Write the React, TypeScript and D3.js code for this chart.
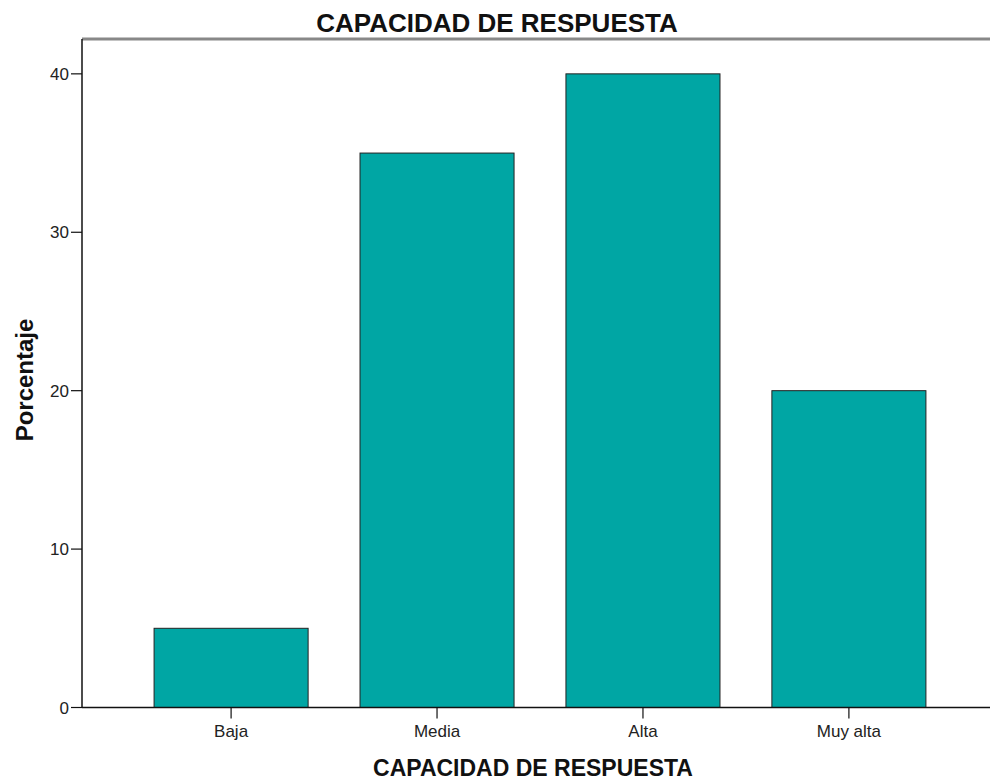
import React from "react";
import * as d3 from "d3";

const categories = ["Baja", "Media", "Alta", "Muy alta"];
const values = [5, 35, 40, 20];
const yTicks = [0, 10, 20, 30, 40];

export default function App() {
  const W = 990, H = 781;
  const left = 82, right = 998, top = 39, bottom = 707.5;
  const x = d3.scaleBand<string>().domain(categories).range([left, right]).paddingInner(0.252).paddingOuter(0.35);
  const y = d3.scaleLinear().domain([0, 42.2]).range([bottom, top]);
  const font = "'Liberation Sans', Arial, sans-serif";
  return (
    <svg width={W} height={H} style={{ position: "absolute", left: 0, top: 0, background: "#fff" }} fontFamily={font}>
      <text x={497} y={32} textAnchor="middle" fontSize={26} fontWeight="bold" fill="#111">CAPACIDAD DE RESPUESTA</text>
      <line x1={left} x2={W} y1={top} y2={top} stroke="#888" strokeWidth={3} />
      {categories.map((c, i) => (
        <rect key={c} x={x(c)!} y={y(values[i])} width={x.bandwidth()} height={y(0) - y(values[i])}
          fill="#00A6A4" stroke="#222" strokeWidth={1} />
      ))}
      <line x1={left} x2={left} y1={top} y2={bottom} stroke="#111" strokeWidth={1.5} />
      <line x1={left} x2={W} y1={bottom} y2={bottom} stroke="#111" strokeWidth={1.5} />
      {yTicks.map(t => (
        <g key={t}>
          <line x1={left - 11} x2={left} y1={y(t)} y2={y(t)} stroke="#111" strokeWidth={1.2} />
          <text x={left - 13} y={y(t) + 6} textAnchor="end" fontSize={17} fill="#222">{t}</text>
        </g>
      ))}
      {categories.map(c => {
        const cx = x(c)! + x.bandwidth() / 2;
        return (
          <g key={c}>
            <line x1={cx} x2={cx} y1={bottom} y2={bottom + 11} stroke="#111" strokeWidth={1.2} />
            <text x={cx} y={737} textAnchor="middle" fontSize={17} fill="#222">{c}</text>
          </g>
        );
      })}
      <text x={533} y={776} textAnchor="middle" fontSize={23} fontWeight="bold" fill="#111">CAPACIDAD DE RESPUESTA</text>
      <text transform={`translate(33,380) rotate(-90)`} textAnchor="middle" fontSize={24} fontWeight="bold" fill="#111">Porcentaje</text>
    </svg>
  );
}
